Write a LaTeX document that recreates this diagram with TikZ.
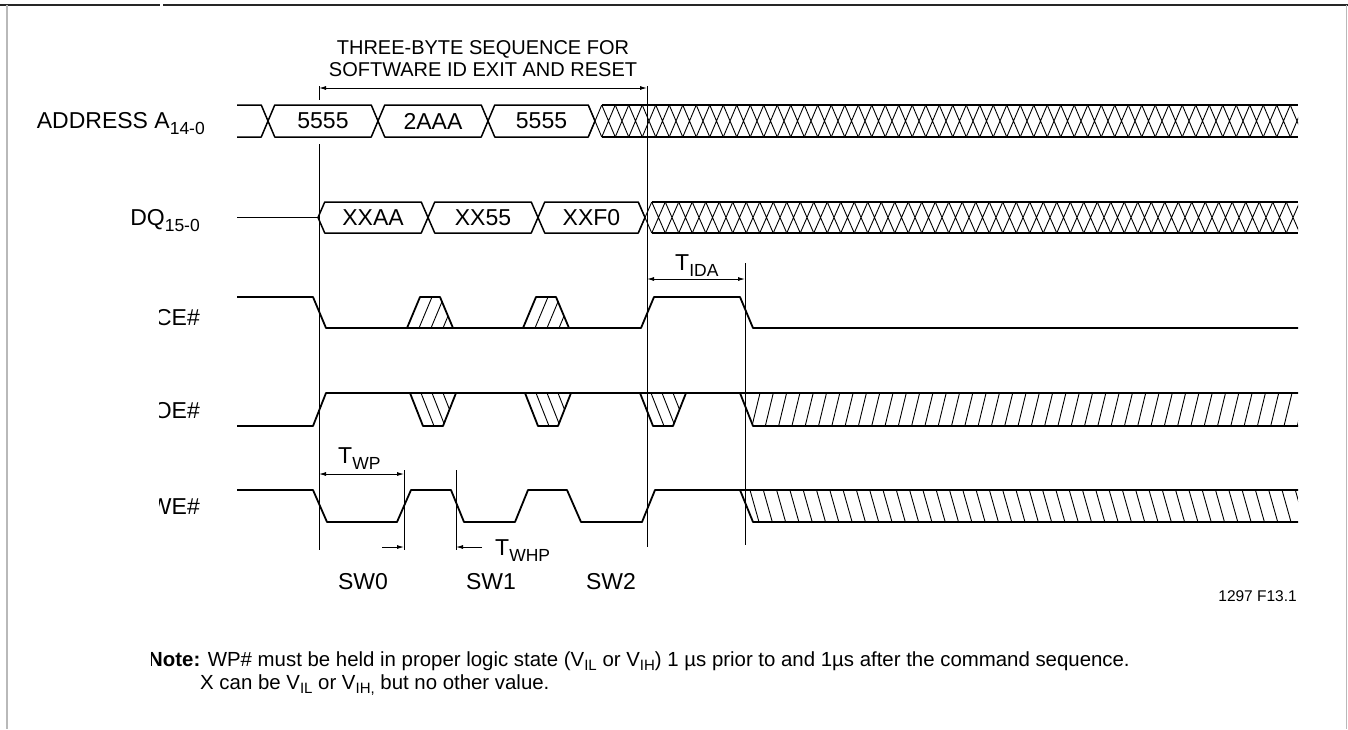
\documentclass[tikz,border=0pt]{standalone}
\usepackage{fontspec}
\setmainfont{Liberation Sans}
\usetikzlibrary{arrows.meta}
\newcommand\lowsub[1]{\raisebox{-6pt}{\fontsize{17.5}{17.5}\selectfont #1}}
\newcommand\notesub[1]{\raisebox{-4pt}{\fontsize{15}{15}\selectfont #1}}
\tikzset{
  wave/.style={line width=1.8pt},
  busline/.style={line width=1.5pt},
  lattice/.style={line width=0.9pt},
  hatchline/.style={line width=0.9pt},
  markline/.style={line width=0.9pt},
  dim/.style={line width=0.9pt,<->},
}
\begin{document}
\begin{tikzpicture}[x=1pt,y=-1pt,>={Latex[length=7pt,width=4pt]},line join=round,
  font=\fontsize{23}{26}\selectfont, every node/.style={inner sep=0pt}]
  \useasboundingbox (0,0) rectangle (1348,729);
  % khung
  \draw[line width=2pt,black!85] (0,5)--(160,5) (163,5)--(1348,5);
  \draw[line width=1.2pt,gray!55] (7,5)--(7,729) (1346.5,5)--(1346.5,729);
  \def\h{6.75} \def\p{13.5} \def\xe{1298}
  % ADDRESS
  \draw[busline] (237,105)--(268-\h,105)--(268,121)--(268-\h,137)--(237,137);
  \foreach \l/\r/\t [count=\i] in {268/378/5555,378/488/2AAA,488/595/5555}{
    \draw[busline] (\l,121)--(\l+\h,105)--(\r-\h,105)--(\r,121)--(\r-\h,137)--(\l+\h,137)--cycle;
    \node (adr\i) at ({(\l+\r)/2},121) {\t};
  }
  \begin{scope}
    \clip (595-\h,100) rectangle (\xe,142);
    \foreach \k in {0,...,52}
      \draw[lattice] (595-\h+\p*\k,105)--(595+\h+\p*\k,137) (595-\h+\p*\k,137)--(595+\h+\p*\k,105);
  \end{scope}
  \draw[busline] (595+\h,105)--(\xe,105) (595+\h,137)--(\xe,137);
  % DQ
  \draw[wave] (237,217.5)--(318,217.5);
  \foreach \l/\r/\t [count=\i] in {318/428/XXAA,428/538/XX55,538/645/XXF0}{
    \draw[busline] (\l,217.5)--(\l+\h,202)--(\r-\h,202)--(\r,217.5)--(\r-\h,233)--(\l+\h,233)--cycle;
    \node (dq\i) at ({(\l+\r)/2},217.5) {\t};
  }
  \begin{scope}
    \clip (645-\h,197) rectangle (\xe,238);
    \foreach \k in {0,...,49}
      \draw[lattice] (645-\h+\p*\k,202)--(645+\h+\p*\k,233) (645-\h+\p*\k,233)--(645+\h+\p*\k,202);
  \end{scope}
  \draw[busline] (645+\h,202)--(\xe,202) (645+\h,233)--(\xe,233);
  % CE#
  \draw[wave] (237,297)--(313,297)--(326,328)--(641,328)--(654,297)--(740,297)--(753,328)--(\xe,328);
  \foreach \b in {407,523}{
    \begin{scope}
      \clip (\b,328)--(\b+13,297)--(\b+33,297)--(\b+46,328)--cycle;
      \foreach \k in {1,2,3} \draw[hatchline] (\b+12*\k,328)--(\b+13+12*\k,297);
    \end{scope}
    \draw[wave] (\b,328)--(\b+13,297)--(\b+33,297)--(\b+46,328);
  }
  % OE#
  \draw[wave] (237,426)--(313,426)--(326,393)--(\xe,393);
  \foreach \b in {410,525,640}{
    \begin{scope}
      \clip (\b,393)--(\b+13,426)--(\b+33,426)--(\b+46,393)--cycle;
      \foreach \k in {1,2,3} \draw[hatchline] (\b+11*\k,393)--(\b+13+11*\k,426);
    \end{scope}
    \draw[wave] (\b,393)--(\b+13,426)--(\b+33,426)--(\b+46,393);
  }
  \begin{scope}
    \clip (740,393)--(\xe,393)--(\xe,426)--(753,426)--cycle;
    \foreach \k in {0,...,41} \draw[hatchline] (752+13.3*\k,426)--(760+13.3*\k,393);
  \end{scope}
  \draw[wave] (740,393)--(753,426)--(\xe,426);
  % WE#
  \draw[wave] (237,490)--(313,490)--(327,522)--(397,522)--(411,490)--(451,490)--(464,522)--(515,522)
    --(528,490)--(567,490)--(581,522)--(642,522)--(655,490)--(\xe,490);
  \begin{scope}
    \clip (740,490)--(\xe,490)--(\xe,522)--(753,522)--cycle;
    \foreach \k in {0,...,41} \draw[hatchline] (750+13.3*\k,490)--(759+13.3*\k,522);
  \end{scope}
  \draw[wave] (740,490)--(753,522)--(\xe,522);
  % moc thoi gian
  \coordinate (seqL) at (319,88);  \coordinate (seqR) at (647,88);
  \coordinate (idaL) at (647,279); \coordinate (idaR) at (745,279);
  \coordinate (wpL) at (319,474);  \coordinate (wpR) at (404,474);
  \coordinate (whpL) at (404,547); \coordinate (whpR) at (456,547);
  \coordinate (whpA) at (382,547); \coordinate (whpB) at (482,547);
  \draw[markline] (319,86)--(319,100) (319,144)--(319,550);
  \draw[markline] (647,86)--(647,547);
  \draw[markline] (745,263)--(745,545);
  \draw[markline] (404,470)--(404,550) (456,470)--(456,550);
  \draw[dim] (seqL)--(seqR);
  \draw[dim] (idaL)--(idaR);
  \draw[dim] (wpL)--(wpR);
  \draw[markline,->] (whpA)--(whpL);
  \draw[markline,->] (whpB)--(whpR);
  % nhan
  \node[align=center,font=\fontsize{20}{22}\selectfont] (seq) at (483,59) {THREE-BYTE SEQUENCE FOR\\SOFTWARE ID EXIT AND RESET};
  \node[anchor=base west] (tida) at (675,270) {T\lowsub{IDA}};
  \node[anchor=base west] (twp) at (338,463) {T\lowsub{WP}};
  \node[anchor=base west] (twhp) at (495,555) {T\lowsub{WHP}};
  \node[anchor=base east] (adr) at (205,128) {ADDRESS A\lowsub{14-0}};
  \node[anchor=base east] (dq) at (200,225) {DQ\lowsub{15-0}};
  \node[anchor=base east] (ce) at (200,325) {CE\#};
  \node[anchor=base east] (oe) at (200,418) {OE\#};
  \node[anchor=base east] (we) at (200,514) {WE\#};
  \node[anchor=base] (sw0) at (363,589) {SW0};
  \node[anchor=base] (sw1) at (491,589) {SW1};
  \node[anchor=base] (sw2) at (611,589) {SW2};
  \node[anchor=base east,font=\fontsize{15.5}{18}\selectfont] (figid) at (1297,601) {1297 F13.1};
  \node[anchor=base west,font=\fontsize{20.4}{22}\selectfont] (note1) at (148,666)
    {\textbf{Note:} WP\# must be held in proper logic state (V\notesub{IL} or V\notesub{IH}) 1 µs prior to and 1µs after the command sequence.};
  \node[anchor=base west,font=\fontsize{20.4}{22}\selectfont] (note2) at (200,689)
    {X can be V\notesub{IL} or V\notesub{IH,} but no other value.};
  % chu bi mat
  \fill[white] (140,300) rectangle (159,520);
  \fill[white] (140,645) rectangle (151,672);
\end{tikzpicture}
\end{document}
